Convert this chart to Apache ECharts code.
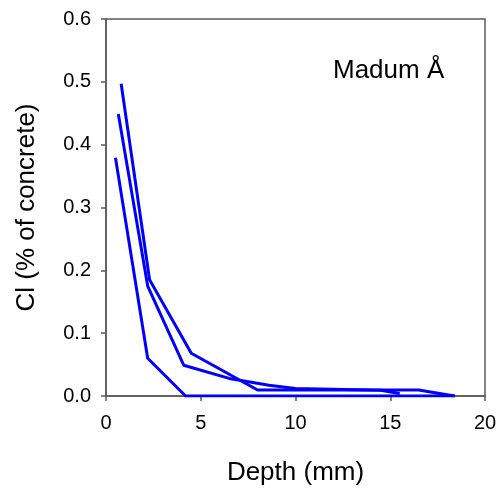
<!DOCTYPE html>
<html><head><meta charset="utf-8">
<script src="https://cdn.jsdelivr.net/npm/echarts@6/dist/echarts.min.js"></script>
<style>html,body{margin:0;padding:0;background:#fff}#c{width:496px;height:488px}</style>
</head><body><div id="c"></div>
<script>
var xTicks = [0, 5, 10, 15, 20];
var yTicks = [0, 0.1, 0.2, 0.3, 0.4, 0.5, 0.6];
var depthA = [0.8, 2.3, 4.5, 8.0, 16.5, 18.4];
var clA    = [0.497, 0.185, 0.068, 0.0095, 0.0095, 0.0];
var depthB = [0.65, 2.2, 4.1, 6.5, 8.6, 10.0, 14.5, 15.5];
var clB    = [0.449, 0.175, 0.049, 0.028, 0.017, 0.012, 0.009, 0.004];
var depthC = [0.5, 2.2, 4.2, 18.4];
var clC    = [0.379, 0.06, 0.0, 0.0];
var label = 'Madum Å';

function pairs(xs, ys){ return xs.map(function(x,i){ return [x, ys[i]]; }); }
var font = 'Liberation Sans, Arial, sans-serif';
var axisCol = '#595959';
var chart = echarts.init(document.getElementById('c'));
function ser(xs, ys){
  return {type:'line', data:pairs(xs,ys), showSymbol:false, symbol:'none',
    lineStyle:{color:'#0000ff', width:3}, z:3};
}
chart.setOption({
  animation:false,
  backgroundColor:'#fff',
  grid:{left:106, right:11, top:19, bottom:92, show:true, borderColor:axisCol, borderWidth:1.5,
    containLabel:false, outerBoundsMode:'none'},
  graphic:[{type:'text', left:333, top:58, style:{text:label, font:'26px '+font, fill:'#000'}}],
  xAxis:{type:'value', min:0, max:20, interval:5,
    name:'Depth (mm)', nameLocation:'middle', nameGap:64,
    nameTextStyle:{fontFamily:font, fontSize:26, color:'#000'},
    axisLine:{show:true, lineStyle:{color:axisCol, width:1.5}},
    axisTick:{show:true, inside:false, length:5, lineStyle:{color:axisCol, width:1.5}},
    axisLabel:{fontFamily:font, fontSize:20, color:'#000', margin:17},
    splitLine:{show:false}},
  yAxis:{type:'value', min:0, max:0.6, interval:0.1,
    name:'Cl (% of concrete)', nameLocation:'middle', nameGap:66,
    nameTextStyle:{fontFamily:font, fontSize:26, color:'#000'},
    axisLine:{show:true, lineStyle:{color:axisCol, width:1.5}},
    axisTick:{show:true, inside:false, length:5, lineStyle:{color:axisCol, width:1.5}},
    axisLabel:{fontFamily:font, fontSize:20, color:'#000', margin:15,
      formatter:function(v){ return v.toFixed(1); }},
    splitLine:{show:false}},
  series:[ser(depthA, clA), ser(depthB, clB), ser(depthC, clC)]
});
</script></body></html>
